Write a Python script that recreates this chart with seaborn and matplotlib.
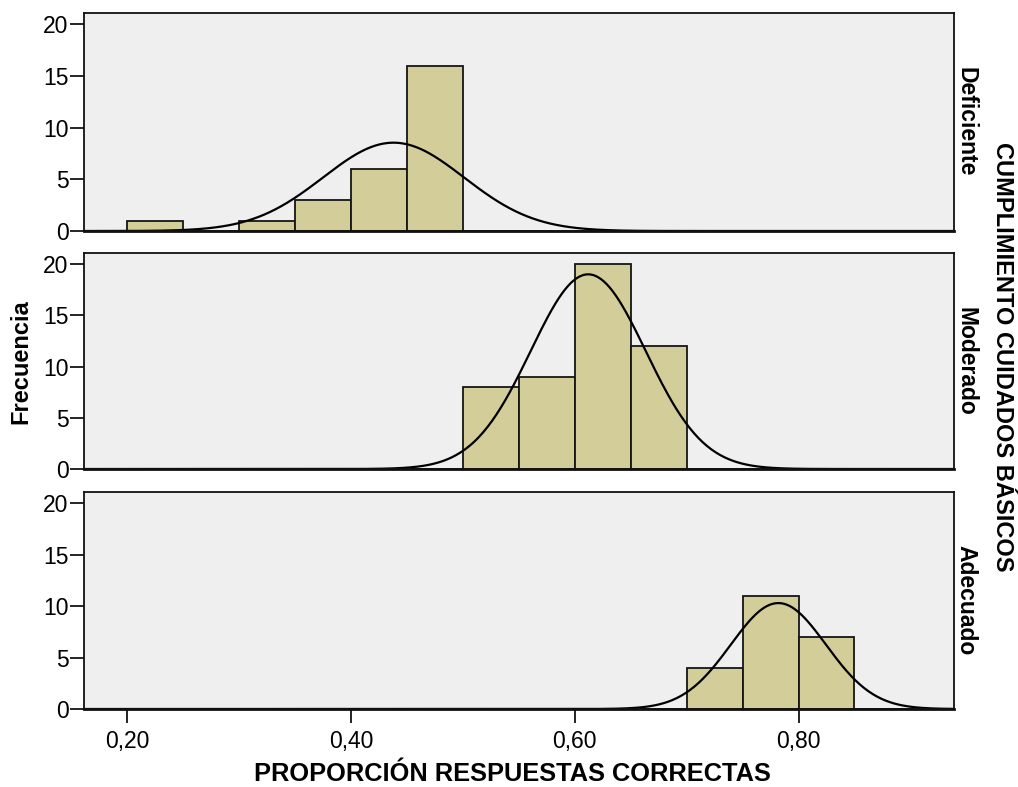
import numpy as np
import pandas as pd
import matplotlib
matplotlib.use("Agg")
import matplotlib.pyplot as plt
import seaborn as sns

sns.set_theme(style="white")
plt.rcParams["font.family"] = ["Liberation Sans", "DejaVu Sans"]
plt.rcParams["text.color"] = "black"
plt.rcParams["xtick.color"] = "black"
plt.rcParams["ytick.color"] = "black"

# Levels of compliance, one histogram per level
niveles = ["Deficiente", "Moderado", "Adecuado"]

# Bin edges of width 0.05 and the count in each bin, per level
bin_edges = [0.15, 0.20, 0.25, 0.30, 0.35, 0.40, 0.45, 0.50, 0.55,
             0.60, 0.65, 0.70, 0.75, 0.80, 0.85, 0.90, 0.95]
conteos = {
    "Deficiente": [0, 1, 0, 1, 3, 6, 16, 0, 0, 0, 0, 0, 0, 0, 0, 0],
    "Moderado":   [0, 0, 0, 0, 0, 0, 0, 8, 9, 20, 12, 0, 0, 0, 0, 0],
    "Adecuado":   [0, 0, 0, 0, 0, 0, 0, 0, 0, 0, 0, 4, 11, 7, 0, 0],
}

# Mean and standard deviation of the fitted normal curve per level
medias = [0.438, 0.612, 0.782]
desvios = [0.063, 0.0514, 0.0426]

x_ticks = [0.20, 0.40, 0.60, 0.80]
x_tick_labels = ["0,20", "0,40", "0,60", "0,80"]
y_ticks = [0, 5, 10, 15, 20]

bar_color = "#D3CE99"
panel_bg = "#EFEFEF"

edges = np.array(bin_edges)
mids = (edges[:-1] + edges[1:]) / 2
rows = []
for nivel in niveles:
    for m, c in zip(mids, conteos[nivel]):
        if c > 0:
            rows.append({"nivel": nivel, "proporcion": float(m), "frecuencia": c})
df = pd.DataFrame(rows)

fig = plt.figure(figsize=(10.18, 7.87), dpi=100)
W, H = 1018, 787
left, right = 84 / W, 954 / W
panels = [(13, 231), (253, 469), (492, 709)]

xlim = (0.1613, 0.939)
xs = np.linspace(xlim[0], xlim[1], 600)
binw = 0.05

for i, (nivel, (top, bot)) in enumerate(zip(niveles, panels)):
    ax = fig.add_axes([left, 1 - bot / H, right - left, (bot - top) / H])
    sub = df[df["nivel"] == nivel]
    sns.histplot(data=sub, x="proporcion", weights="frecuencia", bins=list(bin_edges),
                 color=bar_color, alpha=1, edgecolor="#151515", linewidth=1.3, ax=ax)
    n = sum(conteos[nivel])
    pdf = np.exp(-0.5 * ((xs - medias[i]) / desvios[i]) ** 2) / (desvios[i] * np.sqrt(2 * np.pi))
    sns.lineplot(x=xs, y=n * binw * pdf, color="black", linewidth=1.6, ax=ax)
    ax.set_facecolor(panel_bg)
    ax.set_xlim(*xlim)
    ax.set_ylim(0, 21.1)
    ax.set_yticks(y_ticks)
    ax.set_yticklabels([str(t) for t in y_ticks], fontsize=16.5)
    ax.set_xticks(x_ticks)
    ax.set_xlabel("")
    ax.set_ylabel("")
    for s in ax.spines.values():
        s.set_color("#111111")
        s.set_linewidth(1.3)
    ax.spines["bottom"].set_linewidth(2)
    ax.tick_params(axis="y", length=10, width=1.2, color="black", pad=1, left=True)
    ax.tick_params(axis="x", length=10, width=1.2, color="black", pad=5, bottom=(i == 2))
    if i == 2:
        ax.set_xticklabels(x_tick_labels, fontsize=16.5)
    else:
        ax.set_xticklabels([])
        ax.tick_params(axis="x", bottom=False)
    fig.text(966 / W, 1 - (top + bot) / 2 / H, nivel, rotation=-90,
             ha="center", va="center", fontsize=16.5, fontweight="bold")

fig.text(512 / W, 1 - 774 / H, "PROPORCIÓN RESPUESTAS CORRECTAS",
         ha="center", va="center", fontsize=18.3, fontweight="bold")
fig.text(21 / W, 1 - 362 / H, "Frecuencia", rotation=90,
         ha="center", va="center", fontsize=17, fontweight="bold")
fig.text(1003 / W, 1 - 357 / H, "CUMPLIMIENTO CUIDADOS BÁSICOS", rotation=-90,
         ha="center", va="center", fontsize=17, fontweight="bold")

fig.savefig("out.png", dpi=100, facecolor="white")
